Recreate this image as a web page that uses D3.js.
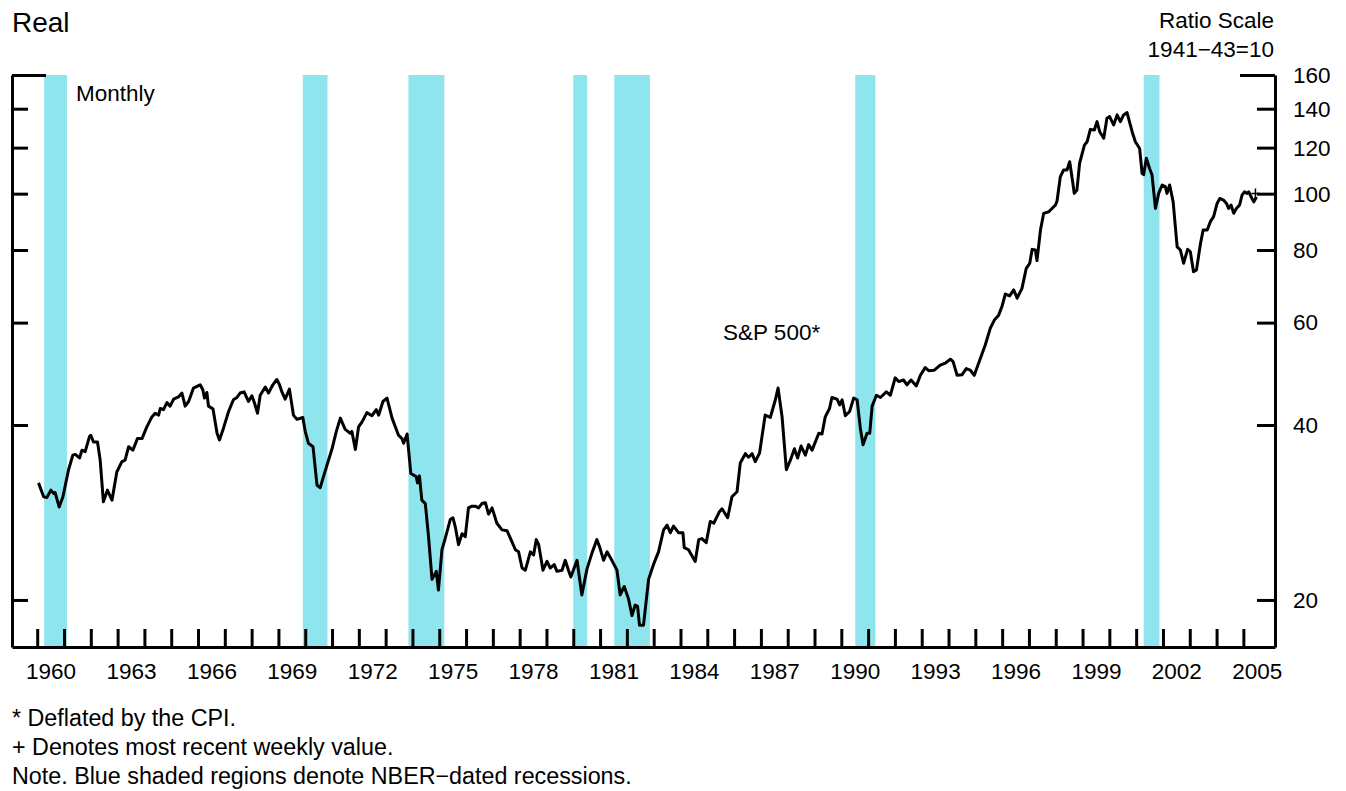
<!DOCTYPE html>
<html>
<head>
<meta charset="utf-8">
<script src="https://cdnjs.cloudflare.com/ajax/libs/d3/7.8.5/d3.min.js"></script>
<style>
  body { margin: 0; background: #fff; }
  svg { display: block; font-family: "Liberation Sans", Arial, sans-serif; }
</style>
</head>
<body>
<div id="chart"></div>
<script>
// monthly real S&P 500 (decimal year, index 1941-43=10, deflated by CPI)
const dates = [
  1960.05, 1960.24, 1960.36, 1960.51, 1960.61, 1960.67, 1960.82, 1960.96, 1961.17, 1961.33,
  1961.42, 1961.58, 1961.67, 1961.79, 1961.95, 1962.00, 1962.10, 1962.25, 1962.35, 1962.47,
  1962.62, 1962.79, 1962.97, 1963.16, 1963.28, 1963.41, 1963.57, 1963.74, 1963.91, 1964.09,
  1964.28, 1964.40, 1964.53, 1964.59, 1964.71, 1964.84, 1964.96, 1965.09, 1965.27, 1965.40,
  1965.52, 1965.65, 1965.83, 1965.96, 1966.08, 1966.18, 1966.24, 1966.33, 1966.39, 1966.56,
  1966.71, 1966.80, 1966.95, 1967.14, 1967.32, 1967.45, 1967.57, 1967.72, 1967.88, 1968.01,
  1968.11, 1968.22, 1968.32, 1968.51, 1968.63, 1968.79, 1968.94, 1969.04, 1969.13, 1969.25,
  1969.41, 1969.56, 1969.69, 1969.91, 1970.00, 1970.12, 1970.29, 1970.44, 1970.56, 1970.68,
  1970.81, 1971.00, 1971.16, 1971.31, 1971.49, 1971.68, 1971.74, 1971.87, 1971.99, 1972.12,
  1972.30, 1972.49, 1972.65, 1972.74, 1972.90, 1973.05, 1973.24, 1973.48, 1973.61, 1973.67,
  1973.80, 1973.94, 1974.14, 1974.19, 1974.26, 1974.35, 1974.48, 1974.60, 1974.73, 1974.89,
  1974.97, 1975.10, 1975.22, 1975.41, 1975.51, 1975.60, 1975.72, 1975.85, 1975.97, 1976.09,
  1976.22, 1976.34, 1976.47, 1976.59, 1976.72, 1976.84, 1976.97, 1977.15, 1977.34, 1977.53,
  1977.71, 1977.84, 1977.96, 1978.09, 1978.21, 1978.40, 1978.52, 1978.62, 1978.71, 1978.87,
  1979.02, 1979.14, 1979.29, 1979.39, 1979.58, 1979.70, 1979.82, 1979.91, 1980.14, 1980.32,
  1980.51, 1980.70, 1980.88, 1980.98, 1981.13, 1981.26, 1981.44, 1981.63, 1981.75, 1981.90,
  1982.06, 1982.19, 1982.31, 1982.40, 1982.47, 1982.62, 1982.81, 1982.99, 1983.18, 1983.37,
  1983.50, 1983.62, 1983.74, 1983.93, 1984.09, 1984.14, 1984.30, 1984.55, 1984.68, 1984.80,
  1984.96, 1985.11, 1985.24, 1985.46, 1985.55, 1985.76, 1985.92, 1986.11, 1986.23, 1986.42,
  1986.54, 1986.67, 1986.79, 1986.95, 1987.16, 1987.35, 1987.54, 1987.64, 1987.79, 1987.95,
  1988.10, 1988.25, 1988.37, 1988.50, 1988.66, 1988.78, 1988.91, 1989.16, 1989.28, 1989.40,
  1989.56, 1989.65, 1989.84, 1989.94, 1990.03, 1990.15, 1990.31, 1990.46, 1990.59, 1990.71,
  1990.81, 1990.96, 1991.06, 1991.15, 1991.31, 1991.46, 1991.68, 1991.83, 1992.01, 1992.14,
  1992.32, 1992.45, 1992.60, 1992.80, 1992.95, 1993.13, 1993.26, 1993.47, 1993.69, 1993.88,
  1994.07, 1994.17, 1994.32, 1994.50, 1994.66, 1994.81, 1994.96, 1995.19, 1995.37, 1995.56,
  1995.71, 1995.87, 1996.00, 1996.12, 1996.28, 1996.43, 1996.56, 1996.74, 1996.90, 1997.03,
  1997.12, 1997.24, 1997.30, 1997.43, 1997.55, 1997.74, 1997.86, 1997.99, 1998.05, 1998.17,
  1998.29, 1998.42, 1998.52, 1998.64, 1998.69, 1998.79, 1998.89, 1999.07, 1999.17, 1999.29,
  1999.44, 1999.54, 1999.64, 1999.79, 1999.91, 2000.01, 2000.16, 2000.29, 2000.41, 2000.53,
  2000.66, 2000.85, 2000.97, 2001.13, 2001.22, 2001.28, 2001.38, 2001.50, 2001.59, 2001.72,
  2001.84, 2001.97, 2002.09, 2002.15, 2002.25, 2002.38, 2002.53, 2002.65, 2002.77, 2002.92,
  2003.02, 2003.14, 2003.25, 2003.40, 2003.50, 2003.65, 2003.77, 2003.89, 2004.02, 2004.12,
  2004.26, 2004.37, 2004.45, 2004.54, 2004.64, 2004.74, 2004.86, 2004.95, 2005.04, 2005.14,
  2005.20, 2005.32, 2005.39, 2005.49
];
const values = [
  31.8, 30.1, 30.0, 30.9, 30.5, 30.6, 28.9, 30.1, 33.5, 35.5,
  35.6, 35.1, 36.2, 36.0, 38.2, 38.4, 37.4, 37.4, 34.8, 29.5,
  30.9, 29.7, 33.2, 34.6, 34.8, 36.7, 36.2, 37.9, 37.9, 39.7,
  41.3, 41.9, 41.6, 42.7, 42.5, 43.7, 43.1, 44.3, 44.7, 45.4,
  43.1, 43.9, 46.3, 46.6, 46.9, 46.0, 44.5, 45.5, 43.1, 42.6,
  38.7, 37.7, 39.5, 42.2, 44.2, 44.6, 45.4, 45.6, 43.9, 44.9,
  43.6, 41.9, 45.0, 46.5, 45.4, 46.9, 47.9, 46.9, 45.6, 44.3,
  46.1, 41.6, 40.9, 41.2, 39.0, 37.2, 36.7, 31.5, 31.2, 32.6,
  34.1, 36.4, 39.0, 41.1, 39.3, 38.7, 39.0, 36.3, 39.7, 40.5,
  42.0, 41.5, 42.5, 41.6, 43.9, 44.5, 41.1, 38.4, 37.9, 37.2,
  38.6, 33.0, 32.6, 31.8, 32.7, 29.7, 29.3, 25.7, 21.7, 22.4,
  20.8, 24.4, 25.5, 27.5, 27.7, 26.7, 24.9, 26.0, 25.7, 28.8,
  29.0, 29.0, 28.8, 29.3, 29.4, 28.1, 28.8, 27.1, 26.4, 26.3,
  25.2, 24.4, 24.2, 22.7, 22.5, 24.2, 23.9, 25.4, 24.9, 22.5,
  23.3, 22.7, 23.0, 22.4, 22.5, 23.4, 22.5, 21.9, 23.4, 20.4,
  22.6, 24.1, 25.4, 24.7, 23.4, 24.2, 23.4, 22.5, 20.4, 21.1,
  20.1, 18.8, 19.6, 19.5, 18.1, 18.1, 21.7, 23.0, 24.2, 26.4,
  26.9, 26.1, 26.8, 26.1, 26.1, 24.6, 24.4, 23.3, 25.4, 25.5,
  25.1, 27.3, 27.1, 28.4, 28.7, 27.7, 30.1, 30.7, 34.4, 35.7,
  35.2, 35.7, 34.6, 35.8, 41.6, 41.2, 44.2, 46.3, 41.3, 33.5,
  34.8, 36.4, 35.1, 36.8, 35.5, 37.0, 36.2, 38.7, 38.6, 41.3,
  42.7, 44.6, 44.3, 43.3, 44.2, 41.5, 42.2, 44.5, 44.2, 39.5,
  37.0, 38.7, 38.7, 43.1, 45.0, 44.6, 45.6, 45.0, 48.2, 47.5,
  47.8, 46.9, 47.8, 46.7, 48.7, 50.2, 49.6, 49.7, 50.7, 51.1,
  51.9, 51.4, 48.7, 48.8, 50.0, 49.7, 48.7, 52.1, 54.9, 58.7,
  60.6, 61.8, 64.1, 67.2, 66.7, 68.3, 66.1, 68.7, 74.4, 75.9,
  80.2, 80.0, 76.7, 86.6, 92.5, 93.1, 94.3, 95.6, 97.2, 106.9,
  109.8, 109.8, 113.5, 104.1, 100.1, 101.4, 112.8, 121.2, 122.8, 129.0,
  128.7, 133.0, 127.8, 124.5, 134.8, 135.7, 131.3, 136.6, 133.0, 136.6,
  137.9, 127.8, 122.8, 119.6, 108.4, 107.8, 115.1, 110.5, 107.8, 94.3,
  100.1, 103.5, 102.8, 100.1, 103.5, 96.8, 81.0, 80.0, 75.9, 80.2,
  79.5, 73.4, 73.9, 82.1, 86.6, 86.6, 89.5, 91.3, 96.2, 98.1,
  97.5, 96.2, 94.3, 95.6, 92.5, 94.3, 95.6, 99.4, 100.7, 100.1,
  100.7, 98.1, 96.8, 98.7
];

// most recent weekly value
const weeklyDate = 2005.45;
const weeklyValue = 100.1;

// NBER recessions (decimal years)
const recessionStart = [1960.26, 1969.91, 1973.85, 1980.0, 1981.53, 1990.52, 2001.28];
const recessionEnd   = [1961.11, 1970.83, 1975.19, 1980.52, 1982.86, 1991.27, 2001.87];

const yearTicks = d3.range(1960, 2006);
const yearLabels = [1960, 1963, 1966, 1969, 1972, 1975, 1978, 1981, 1984, 1987, 1990, 1993, 1996, 1999, 2002, 2005];
const ratioTicks = [20, 40, 60, 80, 100, 120, 140, 160];

const footnotes = [
  "* Deflated by the CPI.",
  "+ Denotes most recent weekly value.",
  "Note. Blue shaded regions denote NBER\u2212dated recessions."
];

const width = 1346,
  height = 791;
const fontSize = 22.5;

// plot frame
const frame = { left: 12, right: 1275, top: 75, bottom: 647 };

const svg = d3
  .select("#chart")
  .append("svg")
  .attr("width", width)
  .attr("height", height)
  .attr("font-size", fontSize);

const x = d3.scaleLinear().domain([1959.06, 2006.18]).range([frame.left, frame.right]);
const y = d3.scaleLog().base(2).domain([16.6, 160]).range([frame.bottom, frame.top]);

const data = dates.map((d, i) => ({ date: d, value: values[i] }));
const recessions = recessionStart.map((d, i) => ({ start: d, end: recessionEnd[i] }));

// recession shading
svg
  .append("g")
  .selectAll("rect")
  .data(recessions)
  .join("rect")
  .attr("x", (d) => x(d.start))
  .attr("width", (d) => x(d.end) - x(d.start))
  .attr("y", frame.top)
  .attr("height", frame.bottom - frame.top)
  .attr("fill", "#8fe5ed");

// year ticks along the bottom
const xTicks = svg
  .append("g")
  .attr("transform", `translate(0,${frame.bottom})`)
  .call(d3.axisTop(x).tickValues(yearTicks).tickSize(18).tickSizeOuter(0).tickFormat(""));

// year labels, centred on the year
const xLabels = svg
  .append("g")
  .attr("transform", `translate(0,${frame.bottom})`)
  .call(
    d3
      .axisBottom(x)
      .tickValues(yearLabels.map((d) => d + 0.5))
      .tickSize(0)
      .tickPadding(16)
      .tickFormat((d) => Math.floor(d))
  );
xLabels.select(".domain").remove();
xLabels.attr("font-family", null).attr("font-size", null);
xLabels.selectAll("text").attr("fill", "#000");

// left axis: ticks only
const yLeft = svg
  .append("g")
  .attr("transform", `translate(${frame.left},0)`)
  .call(d3.axisRight(y).tickValues(ratioTicks).tickSize(16).tickSizeOuter(0).tickFormat(""));
yLeft.selectAll(".tick line").filter((d) => d === 160).attr("x2", 34);

// right axis with labels
const yRight = svg
  .append("g")
  .attr("transform", `translate(${frame.right},0)`)
  .call(d3.axisLeft(y).tickValues(ratioTicks).tickSize(18).tickSizeOuter(0).tickFormat(""));
yRight.selectAll(".tick line").filter((d) => d === 160).attr("x2", -35);

svg
  .append("g")
  .selectAll("text")
  .data(ratioTicks)
  .join("text")
  .attr("x", frame.right + 18)
  .attr("y", (d) => y(d))
  .attr("dy", "0.35em")
  .text((d) => d);

[xTicks, yLeft, yRight].forEach((g) => {
  g.selectAll("line, path").attr("stroke", "#000").attr("stroke-width", 3);
});

// the series
svg
  .append("path")
  .datum(data)
  .attr("fill", "none")
  .attr("stroke", "#000")
  .attr("stroke-width", 3)
  .attr("stroke-linejoin", "round")
  .attr("d", d3.line().x((d) => x(d.date)).y((d) => y(d.value)));

// weekly value marker
const wx = x(weeklyDate),
  wy = y(weeklyValue);
svg
  .append("path")
  .attr("d", `M${wx - 4},${wy}H${wx + 4}M${wx},${wy - 5}V${wy + 5}`)
  .attr("stroke", "#000")
  .attr("stroke-width", 1.5);

// titles and labels
svg.append("text").attr("x", 12).attr("y", 32).attr("font-size", 28).text("Real");
svg
  .append("text")
  .attr("x", 1274)
  .attr("y", 28)
  .attr("text-anchor", "end")
  .text("Ratio Scale");
svg
  .append("text")
  .attr("x", 1274)
  .attr("y", 57)
  .attr("text-anchor", "end")
  .text("1941\u221243=10");
svg.append("text").attr("x", 76).attr("y", 101).text("Monthly");
svg.append("text").attr("x", 723).attr("y", 340).text("S&P 500*");

svg
  .append("g")
  .attr("font-size", 23.3)
  .selectAll("text")
  .data(footnotes)
  .join("text")
  .attr("x", 12)
  .attr("y", (d, i) => 726 + i * 29)
  .text((d) => d);
</script>
</body>
</html>
